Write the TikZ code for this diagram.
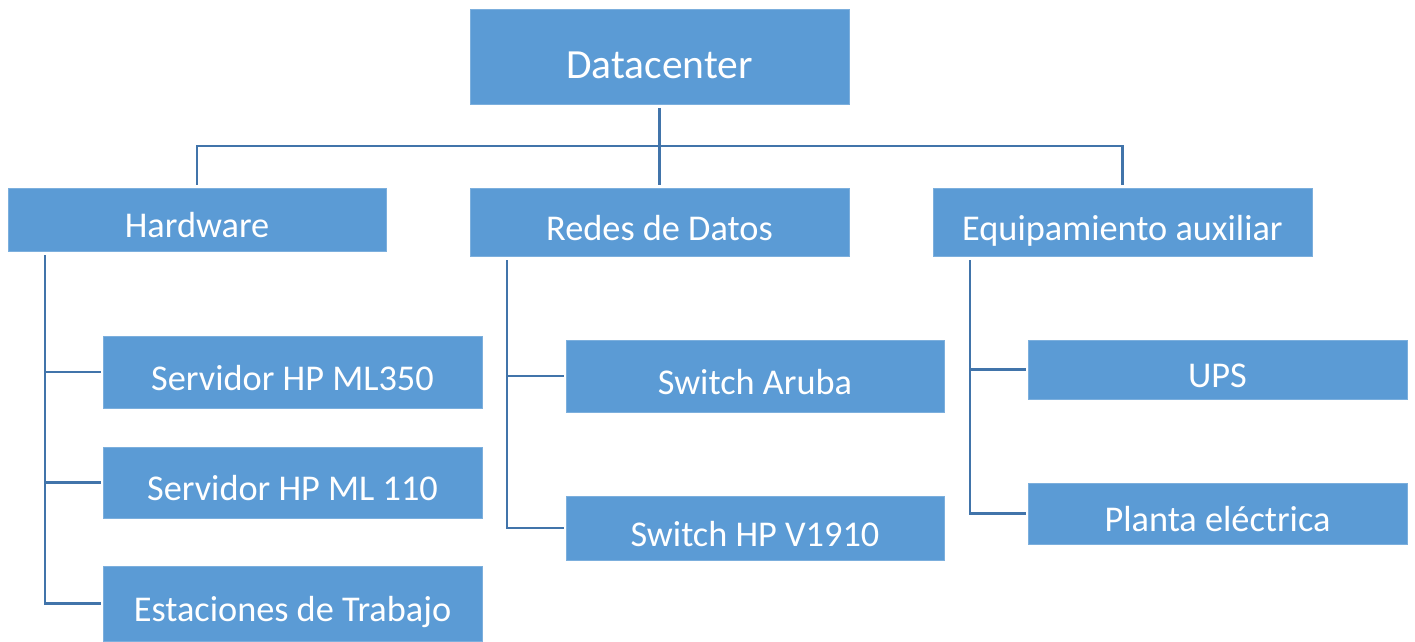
\documentclass[tikz,border=0pt]{standalone}
\usepackage{fontspec}
\setmainfont{Carlito}
\definecolor{boxblue}{HTML}{5B9BD5}
\definecolor{lineblue}{HTML}{4174AA}
\begin{document}
\begin{tikzpicture}[x=1pt,y=-1pt,
  box/.style={rectangle, fill=boxblue, draw=boxblue!80!white, line width=0.6pt, inner sep=0pt,
    text=white, font=\fontsize{36.3}{43}\selectfont, text height=36pt, text depth=0pt},
  conn/.style={draw=lineblue, line width=2.6pt}]
\useasboundingbox (0,0) rectangle (1415,641);
\node[box, minimum width=379pt, minimum height=95pt, font=\fontsize{41.5}{49}\selectfont, text height=43pt] (dc) at (659.5,57) {Datacenter};
\node[box, minimum width=378pt, minimum height=63pt] (hw) at (197,219.5) {Hardware};
\node[box, minimum width=379pt, minimum height=68pt] (rd) at (659.5,222) {Redes de Datos};
\node[box, minimum width=379pt, minimum height=68pt] (ea) at (1122.5,222) {Equipamiento auxiliar};
\node[box, minimum width=379pt, minimum height=72pt] (s1) at (292.5,372) {Servidor HP ML350};
\node[box, minimum width=379pt, minimum height=71pt] (s2) at (292.5,482.5) {Servidor HP ML 110};
\node[box, minimum width=379pt, minimum height=75pt] (et) at (292.5,603.5) {Estaciones de Trabajo};
\node[box, minimum width=378pt, minimum height=72pt] (sa) at (755,376) {Switch Aruba};
\node[box, minimum width=378pt, minimum height=64pt] (sv) at (755,528) {Switch HP V1910};
\node[box, minimum width=379pt, minimum height=59pt] (up) at (1217.5,369.5) {UPS};
\node[box, minimum width=379pt, minimum height=61pt] (pe) at (1217.5,513.5) {Planta eléctrica};
% top tree
\coordinate (bus) at (659.5,146);
\draw[conn] ([yshift=-3pt]dc.south) -- ([yshift=3pt]rd.north);
\draw[conn] ([yshift=3pt]hw.north) |- (bus) -| ([yshift=3pt]ea.north);
% hardware branch
\coordinate (hwt) at (45,255);
\draw[conn] (hwt) |- ([xshift=-2pt]et.west);
\draw[conn] (hwt |- s1.west) -- ([xshift=-2pt]s1.west);
\draw[conn] (hwt |- s2.west) -- ([xshift=-2pt]s2.west);
% redes branch
\coordinate (rdt) at (507,260);
\draw[conn] (rdt) |- ([xshift=-2pt]sv.west);
\draw[conn] (rdt |- sa.west) -- ([xshift=-2pt]sa.west);
% equipamiento branch
\coordinate (eat) at (970,260);
\draw[conn] (eat) |- ([xshift=-2pt]pe.west);
\draw[conn] (eat |- up.west) -- ([xshift=-2pt]up.west);
\end{tikzpicture}
\end{document}
